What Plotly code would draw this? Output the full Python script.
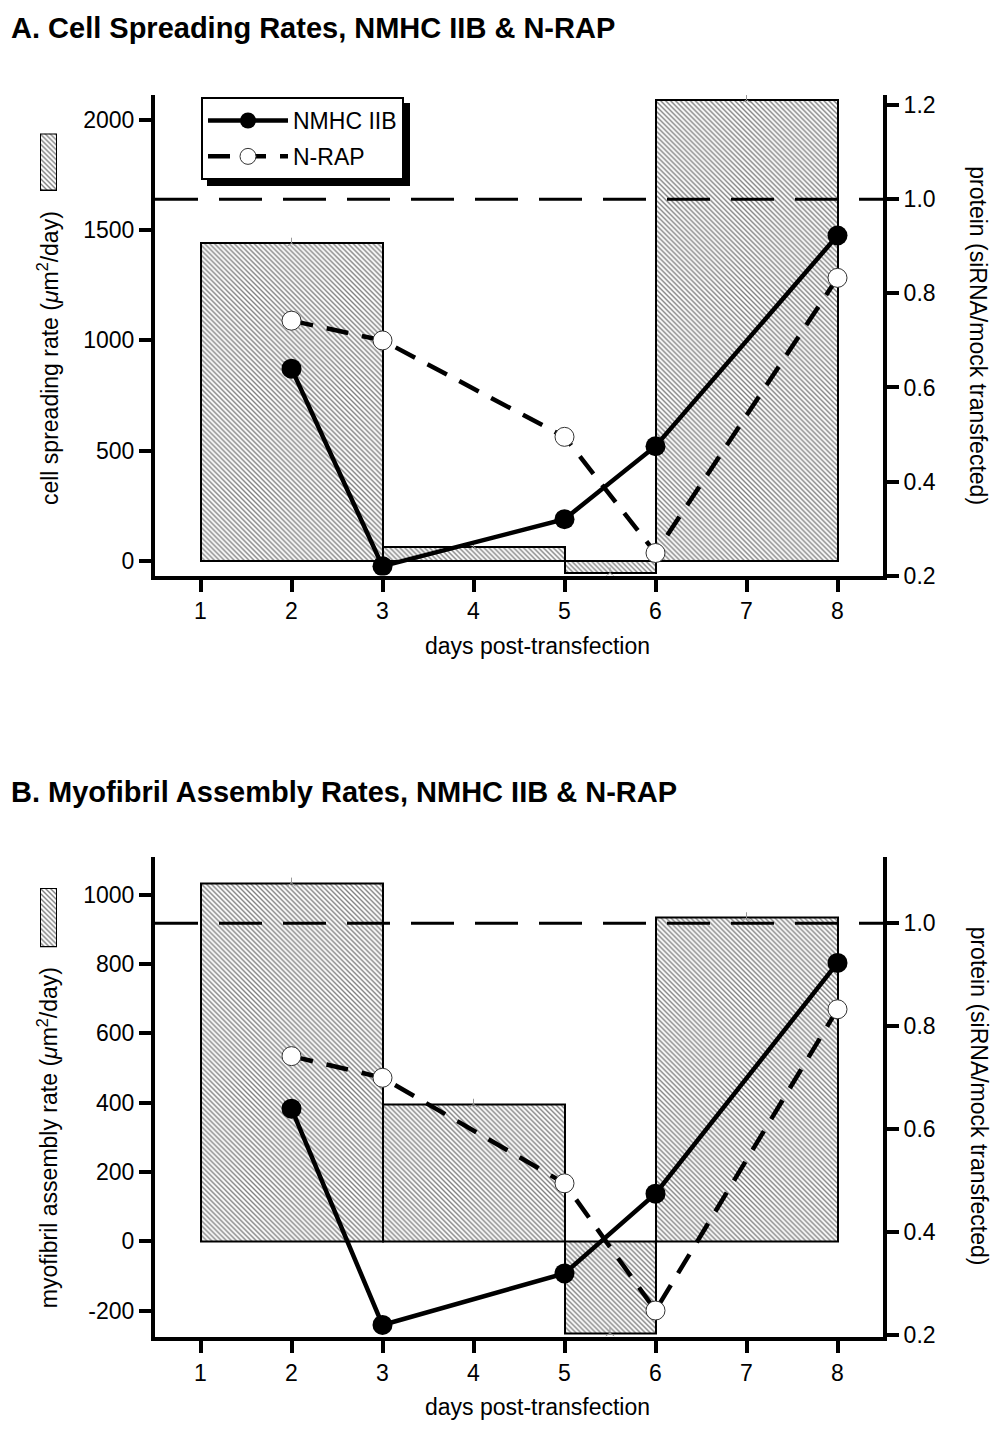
import plotly.graph_objects as go

# ---- data -------------------------------------------------------------
bar_start = [1, 3, 5, 6]
bar_end = [3, 5, 6, 8]
spreading_rate = [1440, 65, -55, 2090]      # um^2/day, panel A
assembly_rate = [1033, 395, -265, 933]      # um^2/day, panel B

days = [2, 3, 5, 6, 8]
nmhc_iib = [0.64, 0.22, 0.32, 0.475, 0.923]   # siRNA / mock transfected
n_rap = [0.742, 0.70, 0.495, 0.248, 0.833]

REF_LEVEL = 1.0
x_ticks = [1, 2, 3, 4, 5, 6, 7, 8]
a_left_ticks = [0, 500, 1000, 1500, 2000]
b_left_ticks = [-200, 0, 200, 400, 600, 800, 1000]
a_right_ticks = [0.2, 0.4, 0.6, 0.8, 1.0, 1.2]
b_right_ticks = [0.2, 0.4, 0.6, 0.8, 1.0]

# page body has an 8px margin, so the figure is offset by that much
OFF = 8
W, H = 1004 - OFF, 1440 - 2 * OFF
FONT = "Liberation Sans, Arial, Helvetica, sans-serif"
FS = 23


def px_x(p):
    return (p - OFF) / W


def px_y(p):
    return 1 - (p - OFF) / H


mids = [(s + e) / 2 for s, e in zip(bar_start, bar_end)]
widths = [e - s for s, e in zip(bar_start, bar_end)]

hatch = dict(shape="\\", size=3.5, solidity=0.4, fgcolor="black", bgcolor="white")
bar_marker = dict(color="white", line=dict(color="black", width=2), pattern=hatch)

fig = go.Figure()


def add_panel(rates, xa, ya, ya2, legend):
    fig.add_trace(go.Bar(
        x=mids, y=rates, width=widths,
        marker=bar_marker,
        xaxis=xa, yaxis=ya, showlegend=False, hoverinfo="skip",
    ))
    # little caps at the bar tops
    fig.add_trace(go.Scatter(
        x=mids, y=rates, mode="markers",
        marker=dict(symbol="y-up-open", size=7, color="#999",
                    line=dict(color="#999", width=1)),
        xaxis=xa, yaxis=ya, showlegend=False, hoverinfo="skip",
    ))
    fig.add_trace(go.Scatter(
        x=days, y=n_rap, mode="lines+markers", name="N-RAP",
        legendgroup="b", legendrank=2,
        line=dict(color="black", width=4.5, dash="22px,14px"),
        marker=dict(size=19, color="white", line=dict(color="#333", width=1)),
        xaxis=xa, yaxis=ya2, showlegend=legend,
    ))
    fig.add_trace(go.Scatter(
        x=days, y=nmhc_iib, mode="lines+markers", name="NMHC IIB",
        legendgroup="a", legendrank=1,
        line=dict(color="black", width=4.5),
        marker=dict(size=20, color="black"),
        xaxis=xa, yaxis=ya2, showlegend=legend,
    ))
    fig.add_shape(
        type="line", xref=f"{xa} domain", yref=ya2,
        x0=0, x1=1, y0=REF_LEVEL, y1=REF_LEVEL,
        line=dict(color="black", width=3, dash="43px,21px"),
    )


add_panel(spreading_rate, "x", "y", "y2", True)
add_panel(assembly_rate, "x2", "y3", "y4", False)

# hatched swatches next to the left axis titles
for xa, ya in (("x3", "y5"), ("x4", "y6")):
    fig.add_trace(go.Bar(
        x=[0], y=[1], width=[1], marker=bar_marker,
        xaxis=xa, yaxis=ya, showlegend=False, hoverinfo="skip",
    ))

axis_common = dict(
    showline=True, linewidth=4, linecolor="black",
    ticks="outside", ticklen=12, tickwidth=4, tickcolor="black",
    showgrid=False, zeroline=False,
    tickfont=dict(family=FONT, size=FS, color="black"),
)
x_dom = [px_x(155), px_x(883)]
a_dom = [px_y(579), px_y(93)]
b_dom = [px_y(1349), px_y(864)]
hidden = dict(visible=False, showgrid=False, zeroline=False, fixedrange=True)

fig.update_layout(
    width=W, height=H,
    margin=dict(l=0, r=0, t=0, b=0),
    paper_bgcolor="white", plot_bgcolor="rgba(0,0,0,0)",
    font=dict(family=FONT, size=FS, color="black"),
    bargap=0,
    xaxis=dict(domain=x_dom, anchor="y", range=[0.5, 8.5],
               tickvals=x_ticks, **axis_common),
    yaxis=dict(domain=a_dom, anchor="x", range=[-66, 2112],
               tickvals=a_left_ticks, ticktext=[str(v) for v in a_left_ticks],
               **axis_common),
    yaxis2=dict(overlaying="y", anchor="x", side="right", range=[0.2, 1.2217],
                tickvals=a_right_ticks, ticktext=[f"{v:.1f}" for v in a_right_ticks],
                **axis_common),
    xaxis2=dict(domain=x_dom, anchor="y3", range=[0.5, 8.5],
                tickvals=x_ticks, **axis_common),
    yaxis3=dict(domain=b_dom, anchor="x2", range=[-276, 1107.5],
                tickvals=b_left_ticks, ticktext=[str(v) for v in b_left_ticks],
                **axis_common),
    yaxis4=dict(overlaying="y3", anchor="x2", side="right", range=[0.1967, 1.128],
                tickvals=b_right_ticks, ticktext=[f"{v:.1f}" for v in b_right_ticks],
                **axis_common),
    xaxis3=dict(domain=[px_x(40), px_x(57)], anchor="y5", range=[-0.5, 0.5], **hidden),
    yaxis5=dict(domain=[px_y(190), px_y(132)], anchor="x3", range=[0, 1], **hidden),
    xaxis4=dict(domain=[px_x(40), px_x(57)], anchor="y6", range=[-0.5, 0.5], **hidden),
    yaxis6=dict(domain=[px_y(955), px_y(895)], anchor="x4", range=[0, 1], **hidden),
    legend=dict(
        x=px_x(201), y=px_y(95), xanchor="left", yanchor="top",
        bgcolor="white", bordercolor="black", borderwidth=2,
        font=dict(family=FONT, size=FS, color="black"),
        itemwidth=80, traceorder="grouped", tracegroupgap=3,
    ),
)

# legend drop shadow
fig.add_shape(type="rect", xref="paper", yref="paper", layer="below",
              x0=px_x(207), x1=px_x(410), y0=px_y(185), y1=px_y(101),
              fillcolor="black", line=dict(width=0))

annotations = [
    dict(text="<b>A. Cell Spreading Rates, NMHC IIB & N-RAP</b>",
         x=px_x(9), y=px_y(25), xanchor="left", yanchor="middle", size=29),
    dict(text="<b>B. Myofibril Assembly Rates, NMHC IIB & N-RAP</b>",
         x=px_x(9), y=px_y(798), xanchor="left", yanchor="middle", size=29),
    dict(text="days post-transfection", x=px_x(537), y=px_y(650),
         xanchor="center", yanchor="middle", size=FS),
    dict(text="days post-transfection", x=px_x(537), y=px_y(1420),
         xanchor="center", yanchor="middle", size=FS),
    dict(text="cell spreading rate (<i>μ</i>m<sup>2</sup>/day)", x=px_x(48), y=px_y(359),
         xanchor="center", yanchor="middle", size=FS, textangle=-90),
    dict(text="myofibril assembly rate (<i>μ</i>m<sup>2</sup>/day)", x=px_x(48), y=px_y(1148),
         xanchor="center", yanchor="middle", size=FS, textangle=-90),
    dict(text="protein (siRNA/mock transfected)", x=px_x(978), y=px_y(336),
         xanchor="center", yanchor="middle", size=FS, textangle=90),
    dict(text="protein (siRNA/mock transfected)", x=px_x(979), y=px_y(1105),
         xanchor="center", yanchor="middle", size=FS, textangle=90),
]
for a in annotations:
    size = a.pop("size")
    fig.add_annotation(xref="paper", yref="paper", showarrow=False,
                       font=dict(family=FONT, size=size, color="black"), **a)

fig.write_html("out.html")
